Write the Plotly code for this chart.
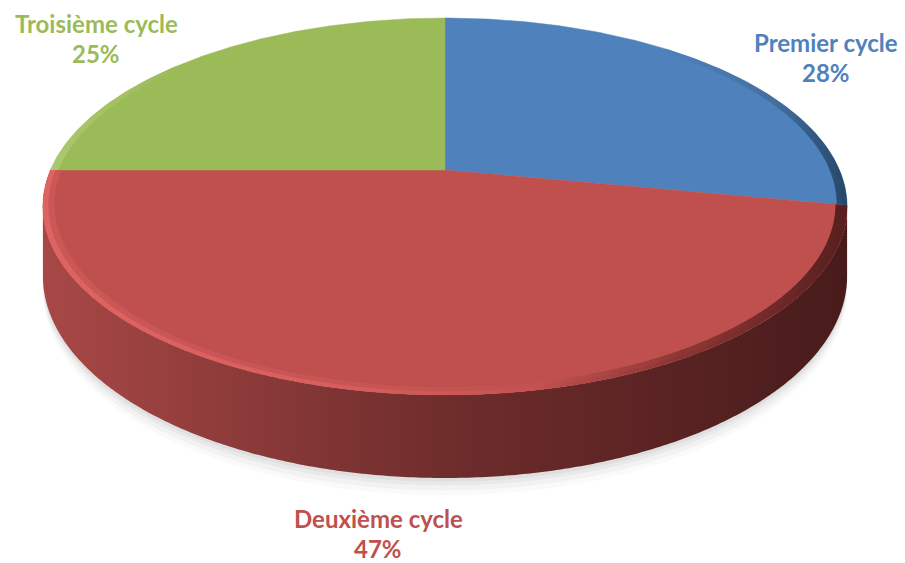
import math
import plotly.graph_objects as go

# Enrolment share by cycle
categories = ["Premier cycle", "Deuxième cycle", "Troisième cycle"]
shares = [28, 47, 25]
face_colors = ["#4F81BD", "#C0504D", "#9BBB59"]
side_scales = [
    [[0, "#3d6494"], [1, "#24405f"]],
    [[0, "#a84846"], [0.5, "#6f2d2c"], [1, "#481b1b"]],
    [[0, "#7a9446"], [1, "#5d7234"]],
]

# Perspective disc geometry (pixel space)
CX, CY = 445.0, 170.0      # projected centre of the disc top
A, B = 394.5, 181.4        # horizontal / vertical half extents
K = 0.1935                 # perspective strength
DEPTH = 67.0               # thickness of the disc
W, H = 905, 563


def proj(theta_deg, r=1.0, drop=0.0):
    t = math.radians(theta_deg)
    u, v = r * math.sin(t), r * math.cos(t)
    den = 1 + K * v
    return CX + A * u / den, CY - B * v / den + drop / den


def arc(a0, a1, r=1.0, drop=0.0, n=None):
    n = n or max(8, int(abs(a1 - a0) * 2))
    pts = [proj(a0 + (a1 - a0) * i / n, r, drop) for i in range(n + 1)]
    return [p[0] for p in pts], [p[1] for p in pts]


def band(a0, a1, r_in, scale):
    xo, yo = arc(a0, a1, 1.0)
    xi, yi = arc(a1, a0, r_in)
    return go.Scatter(x=xo + xi, y=yo + yi, fill="toself", mode="none",
                      fillgradient=dict(type="horizontal", colorscale=scale),
                      hoverinfo="skip", showlegend=False)


total = sum(shares)
bounds = []
acc = 0.0
for s in shares:
    a0 = acc / total * 360
    acc += s
    bounds.append((a0, acc / total * 360))

# visible side spans between the silhouette angles
sil = math.degrees(math.acos(-K))
vis0, vis1 = sil, 360 - sil

fig = go.Figure()

# soft drop shadow under the disc
for off, op in [(14, 0.02), (10, 0.03), (6, 0.035), (3, 0.04)]:
    xs, ys = arc(vis0 - 6, vis1 + 6, 1.0, DEPTH + off)
    xt, yt = arc(vis1 + 6, vis0 - 6, 0.98, DEPTH - 10)
    fig.add_trace(go.Scatter(x=xs + xt, y=ys + yt, fill="toself", mode="none",
                             fillcolor=f"rgba(0,0,0,{op})", hoverinfo="skip",
                             showlegend=False))

# disc sides
for (a0, a1), sc in zip(bounds, side_scales):
    s0, s1 = max(a0, vis0), min(a1, vis1)
    if s1 <= s0:
        continue
    xt, yt = arc(s0, s1)
    xb, yb = arc(s1, s0, drop=DEPTH)
    fig.add_trace(go.Scatter(x=xt + xb, y=yt + yb, fill="toself", mode="none",
                             fillgradient=dict(type="horizontal", colorscale=sc),
                             hoverinfo="skip", showlegend=False))

# top faces
for (a0, a1), col, name, s in zip(bounds, face_colors, categories, shares):
    xr, yr = arc(a0, a1)
    fig.add_trace(go.Scatter(x=[CX] + xr + [CX], y=[CY] + yr + [CY], fill="toself",
                             mode="lines", line=dict(color=col, width=0.5),
                             fillcolor=col, name=name,
                             hovertemplate=f"{name}: {s}%<extra></extra>",
                             showlegend=False))

# bevelled rim: soft outer band plus a thin highlight edge
fig.add_trace(band(bounds[1][0], bounds[1][1], 0.972, [
    [0, "#cb5856"], [0.4, "#c75554"], [0.62, "#c05250"],
    [0.8, "#8e3634"], [1, "#571f1f"]]))
fig.add_trace(band(bounds[1][0], bounds[1][1], 0.987, [
    [0, "#de6361"], [0.35, "#d95f5d"], [0.6, "#c65351"],
    [0.78, "#8e3634"], [1, "#571f1f"]]))
fig.add_trace(band(bounds[0][0] + 40, bounds[0][1], 0.975, [
    [0, "#4F81BD"], [0.6, "#44709f"], [1, "#27476b"]]))
fig.add_trace(band(bounds[2][0], bounds[2][0] + 40, 0.98, [
    [0, "#abc86c"], [1, "#9BBB59"]]))

# data labels
label_pos = [(826, 42), (378, 518), (96, 23)]
for (lx, ly), name, s, col in zip(label_pos, categories, shares, face_colors):
    for dy, txt in [(0, name), (30, f"{s}%")]:
        fig.add_annotation(x=lx, y=ly + dy, text=f"<b>{txt}</b>", showarrow=False,
                           xanchor="center", yanchor="middle",
                           font=dict(family="Lato", size=24, color=col))

fig.update_layout(
    width=W, height=H, margin=dict(l=0, r=0, t=0, b=0),
    paper_bgcolor="white", plot_bgcolor="white",
    xaxis=dict(range=[0, W], visible=False, fixedrange=True),
    yaxis=dict(range=[H, 0], visible=False, fixedrange=True),
)

fig.write_html("out.html")
